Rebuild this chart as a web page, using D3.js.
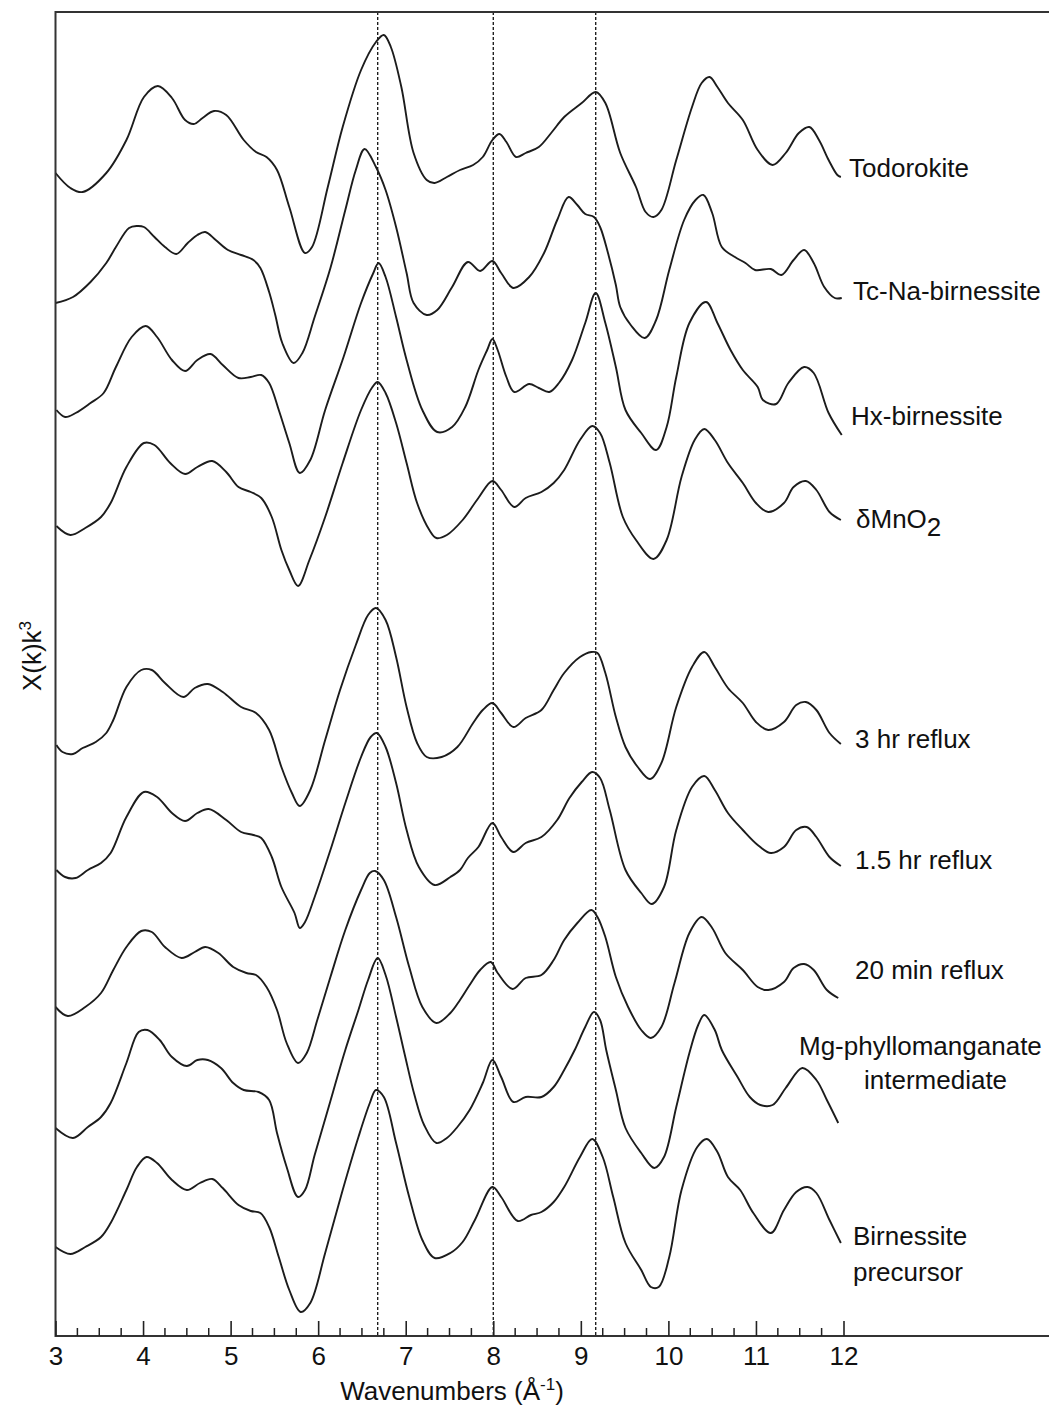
<!DOCTYPE html>
<html>
<head>
<meta charset="utf-8">
<script src="https://cdn.jsdelivr.net/npm/d3@7"></script>
<style>
  html, body { margin: 0; padding: 0; background: #fff; }
  svg { display: block; }
  text { font-family: "Liberation Sans", Arial, Helvetica, sans-serif; fill: #111; }
</style>
</head>
<body>
<svg id="chart" width="1049" height="1405"></svg>
<script>
// ---------- data (k in Å^-1, chi(k)k^3 in arbitrary units, stacked) ----------
const seriesNames = ["Todorokite", "Tc-Na-birnessite", "Hx-birnessite", "δMnO2",
  "3 hr reflux", "1.5 hr reflux", "20 min reflux", "Mg-phyllomanganate intermediate", "Birnessite precursor"];
const seriesOffsets = [116.3, 103.3, 92.6, 81.0, 59.1, 46.6, 32.9, 20.8, 8.9];
const referenceLines = [6.68, 8.0, 9.17];
const xTicks = [3, 4, 5, 6, 7, 8, 9, 10, 11, 12];

const todorokiteK = [3.00,3.17,3.31,3.58,3.81,4.01,4.17,4.33,4.48,4.58,4.68,4.81,4.95,5.15,5.29,5.41,5.53,5.67,5.85,5.93,6.11,6.28,6.49,6.66,6.75,6.83,6.95,7.09,7.24,7.33,7.47,7.62,7.77,7.88,7.99,8.07,8.15,8.26,8.37,8.52,8.67,8.81,9.01,9.17,9.28,9.45,9.63,9.74,9.83,9.92,10.09,10.27,10.38,10.47,10.56,10.68,10.85,11.02,11.19,11.34,11.49,11.61,11.72,11.83,11.93,11.97];
const todorokiteV = [0,-1.5,-1.9,0,3.3,7.6,8.7,7.5,5.3,4.9,5.5,6.2,5.8,3.3,2.1,1.6,0.3,-3.4,-8.0,-7.4,-1.4,4.6,10.3,13.1,13.8,12.6,8.6,2.0,-0.7,-1.0,-0.4,0.3,0.8,1.6,3.3,3.9,3.1,1.6,2.0,2.6,4.1,5.6,7.0,8.1,7.0,2.0,-1.4,-3.9,-4.4,-3.7,1.3,6.6,9.0,9.6,8.6,7.0,5.3,2.3,0.8,2.0,4.0,4.6,3.3,1.3,-0.2,-0.4];

const tcNaK = [3.00,3.20,3.40,3.58,3.69,3.84,3.93,4.01,4.13,4.25,4.38,4.51,4.62,4.71,4.83,4.97,5.12,5.26,5.34,5.44,5.51,5.59,5.72,5.82,5.96,6.14,6.31,6.43,6.53,6.66,6.77,6.89,7.01,7.09,7.24,7.36,7.53,7.71,7.85,7.99,8.09,8.23,8.41,8.58,8.73,8.86,8.96,9.05,9.15,9.22,9.31,9.40,9.45,9.57,9.73,9.86,10.01,10.18,10.31,10.40,10.50,10.61,10.76,10.88,10.99,11.17,11.29,11.43,11.55,11.66,11.78,11.90,11.98];
const tcNaV = [0,0.6,2.1,4.0,5.6,7.5,7.7,7.6,6.6,5.6,4.9,6.0,6.8,7.1,6.3,5.3,4.8,4.3,3.5,1.1,-1.2,-4.0,-6.0,-5.0,-1.4,3.5,9.3,13.3,15.4,13.6,11.3,7.6,3.0,0,-1.2,-0.7,1.6,4.1,3.2,4.2,3.0,1.5,2.6,5.0,8.3,10.6,9.8,8.9,8.6,7.6,5.0,1.8,-0.4,-2.2,-3.5,-1.7,3.3,8.3,10.3,10.8,9.0,5.6,4.6,4.0,3.3,3.4,2.8,4.3,5.3,4.0,1.6,0.5,0.5];

const hxK = [3.01,3.11,3.23,3.40,3.55,3.69,3.87,4.03,4.16,4.33,4.48,4.62,4.77,4.91,5.09,5.23,5.35,5.44,5.55,5.67,5.79,5.91,6.08,6.29,6.49,6.63,6.69,6.77,6.89,7.01,7.19,7.36,7.53,7.68,7.83,7.93,7.99,8.05,8.15,8.24,8.41,8.52,8.64,8.75,8.90,9.05,9.17,9.28,9.40,9.51,9.69,9.86,9.98,10.09,10.24,10.43,10.56,10.71,10.85,11.02,11.08,11.23,11.37,11.55,11.66,11.83,11.98];
const hxV = [0,-0.7,-0.3,0.7,1.7,4.3,7.3,8.4,7.3,5.0,3.9,5.0,5.6,4.5,3.2,3.3,3.5,2.7,0,-3.3,-6.3,-5.0,0,5.3,10.7,13.7,14.7,13.3,9.3,5.0,0,-2.2,-1.7,0.3,4.0,6.0,7.1,6.0,3.3,1.8,2.6,2.2,1.8,2.7,5.0,8.7,11.7,8.7,4.3,0,-2.3,-4.0,-1.7,3.3,8.7,10.8,8.7,6.0,4.0,2.3,1.0,0.6,2.7,4.3,3.7,-0.3,-2.5];

const dMnO2K = [3.01,3.17,3.34,3.52,3.63,3.81,4.01,4.13,4.31,4.48,4.62,4.79,4.95,5.09,5.23,5.35,5.47,5.58,5.67,5.77,5.90,6.08,6.28,6.49,6.62,6.68,6.77,6.89,7.01,7.13,7.27,7.35,7.47,7.65,7.83,7.99,8.09,8.24,8.37,8.55,8.69,8.81,8.99,9.13,9.22,9.33,9.48,9.63,9.83,9.98,10.15,10.30,10.41,10.53,10.68,10.85,11.00,11.14,11.32,11.43,11.57,11.69,11.84,11.97];
const dMnO2V = [0,-0.9,-0.2,0.9,2.3,5.9,8.3,8.1,6.3,5.2,5.9,6.5,5.4,3.9,3.4,2.8,0.9,-2.4,-4.4,-6.0,-3.4,0.9,6.3,11.6,13.9,14.4,13.3,10.3,6.3,2.3,-0.4,-1.2,-0.9,0.6,2.8,4.5,3.6,1.9,2.8,3.4,4.3,5.6,8.6,10.0,9.3,6.3,0.9,-1.4,-3.3,-1.4,4.9,8.6,9.7,8.6,6.3,4.3,2.3,1.4,2.3,3.9,4.5,3.6,1.4,0.6];

const reflux3hK = [3.01,3.08,3.20,3.31,3.46,3.58,3.66,3.81,3.98,4.10,4.25,4.46,4.59,4.74,4.91,5.12,5.29,5.44,5.58,5.70,5.79,5.91,6.08,6.25,6.43,6.57,6.66,6.77,6.89,7.01,7.13,7.24,7.41,7.59,7.77,7.88,7.99,8.09,8.23,8.37,8.55,8.69,8.81,8.99,9.12,9.19,9.28,9.40,9.51,9.65,9.79,9.92,10.09,10.27,10.41,10.53,10.68,10.85,11.00,11.14,11.32,11.46,11.57,11.69,11.84,11.97];
const reflux3hV = [0,-0.7,-0.9,-0.3,0.3,1.2,2.5,5.8,7.5,7.5,6.2,4.8,5.7,6.1,5.3,3.8,3.2,1.5,-2.2,-4.8,-6.1,-4.5,0.5,5.5,10.0,13.0,13.7,12.5,8.8,3.8,0.2,-1.2,-1.2,-0.2,2.2,3.5,4.2,3.2,1.8,2.7,3.5,5.5,7.2,8.8,9.3,9.2,7.2,2.8,-0.2,-2.2,-3.4,-1.8,3.8,7.8,9.3,7.8,5.7,4.2,2.3,1.5,2.3,4.0,4.3,3.5,1.2,0.1];

const reflux15hK = [3.01,3.11,3.23,3.37,3.52,3.63,3.81,4.01,4.16,4.33,4.48,4.62,4.75,4.95,5.12,5.26,5.35,5.47,5.58,5.73,5.79,5.85,5.96,6.14,6.31,6.49,6.60,6.67,6.77,6.89,7.01,7.15,7.33,7.51,7.62,7.71,7.83,7.99,8.09,8.23,8.37,8.55,8.73,8.87,9.01,9.13,9.22,9.33,9.51,9.69,9.81,9.95,10.09,10.27,10.41,10.53,10.68,10.85,11.02,11.17,11.32,11.46,11.58,11.69,11.84,11.97];
const reflux15hV = [0,-0.7,-0.8,0,0.7,1.7,5.3,7.8,7.3,5.7,4.9,5.7,6.1,5.0,3.8,3.5,3.2,1.3,-1.7,-4.3,-5.8,-5.2,-2.7,2.0,6.7,11.3,13.3,13.7,12.3,8.7,4.0,0.3,-1.5,-0.7,0,1.2,2.3,4.7,3.3,1.8,2.7,3.3,5.0,7.2,8.8,9.8,9.2,6.0,0,-2.3,-3.4,-1.7,4.0,8.3,9.4,8.0,5.7,4.0,2.5,1.7,2.3,4.0,4.3,3.3,1.3,0.4];

const reflux20mK = [3.00,3.14,3.34,3.52,3.66,3.81,3.98,4.10,4.25,4.44,4.59,4.71,4.86,5.03,5.18,5.29,5.41,5.53,5.64,5.77,5.87,5.99,6.14,6.31,6.49,6.59,6.65,6.75,6.89,7.04,7.19,7.35,7.51,7.62,7.73,7.85,7.97,8.05,8.22,8.37,8.55,8.69,8.81,8.96,9.12,9.19,9.28,9.40,9.54,9.69,9.80,9.92,10.07,10.24,10.38,10.50,10.65,10.85,11.02,11.14,11.32,11.43,11.55,11.66,11.81,11.94];
const reflux20mV = [0,-0.9,0,1.4,3.7,6.0,7.6,7.5,6.0,4.9,5.5,6.0,5.4,4.0,3.4,3.2,2.0,-0.3,-3.6,-5.6,-4.6,-1.3,3.0,7.7,11.7,13.4,13.6,12.7,9.0,4.0,0,-1.6,-0.6,0.7,2.2,3.7,4.5,3.4,1.8,2.9,3.2,4.7,6.7,8.4,9.7,9.0,7.0,3.0,0,-2.3,-3.1,-2.0,2.4,7.4,9.0,7.9,5.4,3.7,2.0,1.7,2.5,3.9,4.3,3.7,1.7,0.9];

const mgPhylloK = [3.00,3.20,3.37,3.52,3.63,3.81,3.95,4.05,4.19,4.33,4.50,4.62,4.74,4.89,5.03,5.15,5.32,5.44,5.53,5.64,5.77,5.85,5.96,6.11,6.31,6.46,6.57,6.68,6.77,6.89,6.99,7.10,7.21,7.35,7.47,7.59,7.73,7.88,7.99,8.09,8.23,8.37,8.55,8.69,8.81,8.93,9.05,9.15,9.22,9.29,9.40,9.51,9.69,9.84,9.95,10.09,10.24,10.34,10.41,10.53,10.61,10.79,10.93,11.05,11.19,11.34,11.53,11.69,11.81,11.94];
const mgPhylloV = [0,-1.0,0.1,1.1,2.5,6.5,9.6,9.8,8.8,7.1,6.2,6.8,6.8,6.0,4.5,3.8,3.6,2.8,-0.5,-3.9,-6.9,-6.2,-2.7,1.8,7.8,11.8,14.8,17.0,15.3,11.1,7.3,3.3,0.3,-1.5,-1.0,0.1,1.8,4.5,6.8,5.1,2.6,3.1,3.1,4.1,5.8,7.8,10.1,11.6,10.8,7.8,3.8,0,-2.5,-4.0,-2.9,2.1,7.5,10.3,11.3,9.8,7.8,5.1,3.1,2.3,2.3,4.0,6.0,4.8,2.8,0.5];

const birnessiteK = [3.00,3.17,3.34,3.52,3.63,3.81,3.93,4.04,4.16,4.33,4.50,4.65,4.79,4.91,5.09,5.23,5.34,5.44,5.55,5.67,5.80,5.91,6.08,6.28,6.46,6.59,6.66,6.75,6.89,7.04,7.19,7.33,7.51,7.65,7.79,7.99,8.09,8.28,8.43,8.55,8.69,8.81,8.99,9.13,9.25,9.37,9.51,9.69,9.80,9.89,10.01,10.15,10.33,10.44,10.56,10.68,10.82,10.97,11.17,11.32,11.46,11.59,11.69,11.84,11.97];
const birnessiteV = [0,-0.7,0,1.0,2.4,5.7,8.0,9.0,8.4,6.7,5.7,6.4,6.8,5.9,4.2,3.6,3.4,2.0,-1.0,-4.3,-6.5,-5.6,-0.6,5.7,11.0,14.4,15.7,15.0,10.4,5.0,0.7,-1.1,-0.6,0.5,2.7,6.0,5.0,2.6,3.2,3.5,4.5,6.0,9.0,10.8,9.0,5.0,0.4,-2.3,-4.0,-4.0,-1.0,5.7,10.0,10.8,9.5,7.0,5.7,3.4,1.4,3.7,5.5,6.0,5.4,2.7,0.4];

const seriesK = [todorokiteK, tcNaK, hxK, dMnO2K, reflux3hK, reflux15hK, reflux20mK, mgPhylloK, birnessiteK];
const seriesV = [todorokiteV, tcNaV, hxV, dMnO2V, reflux3hV, reflux15hV, reflux20mV, mgPhylloV, birnessiteV];

// ---------- layout ----------
const svg = d3.select("#chart");
const plot = { left: 55.5, top: 12, bottom: 1336, right: 1049 };

const x = d3.scaleLinear().domain([3, 12]).range([55.5, 843.5]);
const y = d3.scaleLinear().domain([0, 132.4]).range([plot.bottom, plot.top]);

const ink = "#1c1c1c";
const FS = 26;

// dashed reference lines
svg.append("g").selectAll("line").data(referenceLines).join("line")
  .attr("x1", d => x(d)).attr("x2", d => x(d))
  .attr("y1", plot.top).attr("y2", plot.bottom)
  .attr("stroke", "#111").attr("stroke-width", 1.3)
  .attr("stroke-dasharray", "3,2");

// curves
const line = d3.line()
  .x(d => x(d.k))
  .y(d => y(d.v))
  .curve(d3.curveCatmullRom.alpha(0.5));

const curves = seriesNames.map((name, i) => ({
  name,
  pts: seriesK[i].map((k, j) => ({ k, v: seriesOffsets[i] + seriesV[i][j] }))
}));

svg.append("g").selectAll("path").data(curves).join("path")
  .attr("d", d => line(d.pts))
  .attr("fill", "none")
  .attr("stroke", ink)
  .attr("stroke-width", 1.9)
  .attr("stroke-linejoin", "round");

// frame: left, top, bottom (no right border)
svg.append("path")
  .attr("d", `M${plot.right},${plot.top}H${plot.left}V${plot.bottom}H${plot.right}`)
  .attr("stroke", "#333").attr("stroke-width", 2).attr("fill", "none");

// x axis ticks (inward)
const xAxis = d3.axisBottom(x).tickValues(xTicks).tickSize(-15).tickFormat(d3.format("d"));
const gx = svg.append("g").attr("transform", `translate(0,${plot.bottom})`).call(xAxis);
gx.select(".domain").remove();
gx.selectAll(".tick line").attr("stroke", "#222").attr("stroke-width", 1.6);
gx.selectAll(".tick text")
  .attr("font-size", FS).attr("fill", "#111")
  .attr("font-family", '"Liberation Sans", Arial, sans-serif')
  .attr("dy", "0.35em").attr("y", 20);

const minorTicks = d3.range(3.25, 12, 0.25).filter(v => Math.abs(v - Math.round(v)) > 1e-6);
svg.append("g").selectAll("line").data(minorTicks).join("line")
  .attr("x1", d => x(d)).attr("x2", d => x(d))
  .attr("y1", plot.bottom).attr("y2", plot.bottom - 8)
  .attr("stroke", "#222").attr("stroke-width", 1.5);

// axis titles
const xt = svg.append("text").attr("x", 452).attr("y", 1400)
  .attr("text-anchor", "middle").attr("font-size", FS);
xt.append("tspan").text("Wavenumbers (Å");
xt.append("tspan").attr("dy", -10).attr("font-size", 17).text("-1");
xt.append("tspan").attr("dy", 10).text(")");

const yt = svg.append("text").attr("transform", "translate(41,656) rotate(-90)")
  .attr("text-anchor", "middle").attr("font-size", FS);
yt.append("tspan").text("X(k)k");
yt.append("tspan").attr("dy", -10).attr("font-size", 17).text("3");

// series labels
const labelSpecs = [
  { lines: ["Todorokite"], x: 849, y: 177 },
  { lines: ["Tc-Na-birnessite"], x: 853, y: 300 },
  { lines: ["Hx-birnessite"], x: 851, y: 425 },
  { lines: ["δMnO"], x: 856, y: 528, sub: "2" },
  { lines: ["3 hr reflux"], x: 855, y: 748 },
  { lines: ["1.5 hr reflux"], x: 855, y: 869 },
  { lines: ["20 min reflux"], x: 855, y: 979 },
  { lines: ["Mg-phyllomanganate", "intermediate"], x: [799, 864], y: [1055, 1089] },
  { lines: ["Birnessite", "precursor"], x: [853, 853], y: [1245, 1281] }
];
const lg = svg.append("g").attr("font-size", FS);
labelSpecs.forEach(s => {
  s.lines.forEach((t, j) => {
    const tx = Array.isArray(s.x) ? s.x[j] : s.x;
    const ty = Array.isArray(s.y) ? s.y[j] : s.y;
    const el = lg.append("text").attr("x", tx).attr("y", ty);
    el.append("tspan").text(t);
    if (s.sub) el.append("tspan").attr("dy", 8).text(s.sub);
  });
});
</script>
</body>
</html>
